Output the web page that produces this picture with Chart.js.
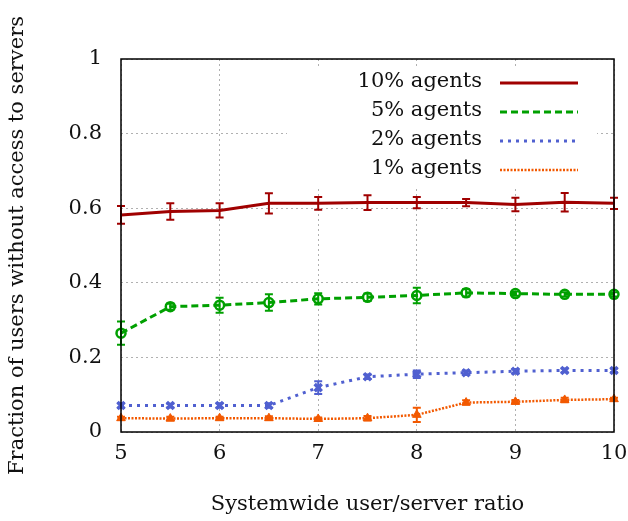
<!DOCTYPE html>
<html>
<head>
<meta charset="utf-8">
<script src="https://cdn.jsdelivr.net/npm/chart.js@4"></script>
<style>
  html, body { margin: 0; background: #fff; }
  #wrap { width: 628px; height: 521px; }
</style>
</head>
<body>
<div id="wrap"><canvas id="chart"></canvas></div>
<script>
// user/server ratio on the x axis
const ratios = [5, 5.5, 6, 6.5, 7, 7.5, 8, 8.5, 9, 9.5, 10];

// fraction of users without access, one array per agent share
const agents10 = [0.582, 0.591, 0.594, 0.613, 0.613, 0.615, 0.615, 0.615, 0.610, 0.616, 0.613];
const agents5  = [0.265, 0.336, 0.340, 0.347, 0.357, 0.361, 0.366, 0.373, 0.371, 0.369, 0.369];
const agents2  = [0.071, 0.071, 0.071, 0.071, 0.119, 0.148, 0.155, 0.159, 0.163, 0.165, 0.165];
const agents1  = [0.037, 0.036, 0.037, 0.037, 0.035, 0.037, 0.046, 0.079, 0.081, 0.086, 0.088];

// half-width of the error bars
const err10 = [0.024, 0.022, 0.019, 0.027, 0.017, 0.020, 0.015, 0.010, 0.018, 0.025, 0.015];
const err5  = [0.031, 0.008, 0.020, 0.022, 0.015, 0.010, 0.021, 0.010, 0.006, 0.006, 0.006];
const err2  = [0.006, 0.005, 0.006, 0.006, 0.017, 0.006, 0.010, 0.006, 0.006, 0.005, 0.005];
const err1  = [0.004, 0.005, 0.004, 0.005, 0.004, 0.006, 0.019, 0.006, 0.005, 0.006, 0.004];

const labels = ['10% agents', '5% agents', '2% agents', '1% agents'];
const xTicks = [5, 6, 7, 8, 9, 10];
const yTicks = [0, 0.2, 0.4, 0.6, 0.8, 1];

const FONT = '"DejaVu Serif", serif';
const FS = 21;

function punten(vals) {
    return ratios.map((x, i) => ({ x: x, y: vals[i] }));
}

// foutbalken in de kleur van de reeks
const errorBars = {
    id: 'errorBars',
    afterDatasetsDraw(chart) {
        const ctx = chart.ctx;
        const xs = chart.scales.x, ys = chart.scales.y;
        chart.data.datasets.forEach(ds => {
            ctx.save();
            ctx.strokeStyle = ds.borderColor;
            ctx.lineWidth = 2;
            ctx.setLineDash([]);
            ds.errors.forEach((e, i) => {
                const px = xs.getPixelForValue(ds.data[i].x);
                const top = ys.getPixelForValue(ds.data[i].y + e);
                const bot = ys.getPixelForValue(ds.data[i].y - e);
                ctx.beginPath();
                ctx.moveTo(px, top); ctx.lineTo(px, bot);
                ctx.moveTo(px - 4, top); ctx.lineTo(px + 4, top);
                ctx.moveTo(px - 4, bot); ctx.lineTo(px + 4, bot);
                ctx.stroke();
            });
            ctx.restore();
        });
    }
};

// legenda in gnuplot-stijl: tekst rechts uitgelijnd, lijnstaal rechts
const gnuLegend = {
    id: 'gnuLegend',
    afterDatasetsDraw(chart) {
        const ctx = chart.ctx;
        ctx.save();
        ctx.fillStyle = '#fff';
        ctx.fillRect(287, 67, 310, 120);
        ctx.font = FS + 'px ' + FONT;
        ctx.textAlign = 'right';
        ctx.textBaseline = 'middle';
        chart.data.datasets.forEach((ds, i) => {
            const y = 82 + i * 29;
            ctx.fillStyle = '#111';
            ctx.fillText(ds.label, 482, y);
            ctx.strokeStyle = ds.borderColor;
            ctx.lineWidth = ds.borderWidth;
            ctx.setLineDash(ds.borderDash);
            ctx.beginPath();
            ctx.moveTo(500, y + 1);
            ctx.lineTo(578, y + 1);
            ctx.stroke();
        });
        ctx.restore();
    }
};

// kader rond het plotgebied
const frame = {
    id: 'frame',
    afterDraw(chart) {
        const a = chart.chartArea, ctx = chart.ctx;
        ctx.save();
        ctx.strokeStyle = '#000';
        ctx.lineWidth = 1.5;
        ctx.strokeRect(a.left, a.top, a.right - a.left, a.bottom - a.top);
        ctx.restore();
    }
};

const ctx = document.getElementById('chart').getContext('2d');
new Chart(ctx, {
    type: 'line',
    data: {
        datasets: [
            { label: labels[0], data: punten(agents10), errors: err10, borderColor: '#a00000', backgroundColor: '#a00000',
              borderWidth: 3, borderDash: [], pointRadius: 0 },
            { label: labels[1], data: punten(agents5), errors: err5, borderColor: '#00a000', backgroundColor: 'rgba(0,0,0,0)',
              borderWidth: 3, borderDash: [7, 4], pointStyle: 'circle', pointRadius: 4.5, pointBorderWidth: 2.5 },
            { label: labels[2], data: punten(agents2), errors: err2, borderColor: '#5060d0', backgroundColor: '#5060d0',
              borderWidth: 3, borderDash: [3, 5], pointStyle: 'crossRot', pointRadius: 5, pointBorderWidth: 3.5 },
            { label: labels[3], data: punten(agents1), errors: err1, borderColor: '#f25900', backgroundColor: '#f25900',
              borderWidth: 2.5, borderDash: [2, 1.5], pointStyle: 'triangle', pointRadius: 5, pointBorderWidth: 1 }
        ]
    },
    options: {
        responsive: true,
        maintainAspectRatio: false,
        animation: false,
        clip: false,
        layout: { padding: { top: 59, right: 14, left: 0, bottom: 0 } },
        plugins: { legend: { display: false }, tooltip: { enabled: false } },
        scales: {
            x: {
                type: 'linear', min: 5, max: 10,
                afterBuildTicks: s => { s.ticks = xTicks.map(v => ({ value: v })); },
                afterFit: s => { s.height = 89; s.paddingLeft = 0; s.paddingRight = 0; },
                ticks: { color: '#111', font: { family: FONT, size: FS }, padding: 9, maxRotation: 0 },
                grid: { color: '#b0b0b0', lineWidth: 1, drawTicks: false },
                border: { display: false, dash: [2, 3] },
                title: { display: true, text: 'Systemwide user/server ratio', color: '#111',
                         font: { family: FONT, size: FS }, padding: { top: 14 } }
            },
            y: {
                min: 0, max: 1,
                afterBuildTicks: s => { s.ticks = yTicks.map(v => ({ value: v })); },
                afterFit: s => { s.width = 121; s.paddingTop = 0; s.paddingBottom = 0; },
                ticks: { color: '#111', font: { family: FONT, size: FS }, padding: 19,
                         callback: v => String(v) },
                grid: { color: '#b0b0b0', lineWidth: 1, drawTicks: false },
                border: { display: false, dash: [2, 3] },
                title: { display: true, text: 'Fraction of users without access to servers', color: '#111',
                         font: { family: FONT, size: FS }, padding: { bottom: 0, top: 5 } }
            }
        }
    },
    plugins: [errorBars, gnuLegend, frame]
});
</script>
</body>
</html>
